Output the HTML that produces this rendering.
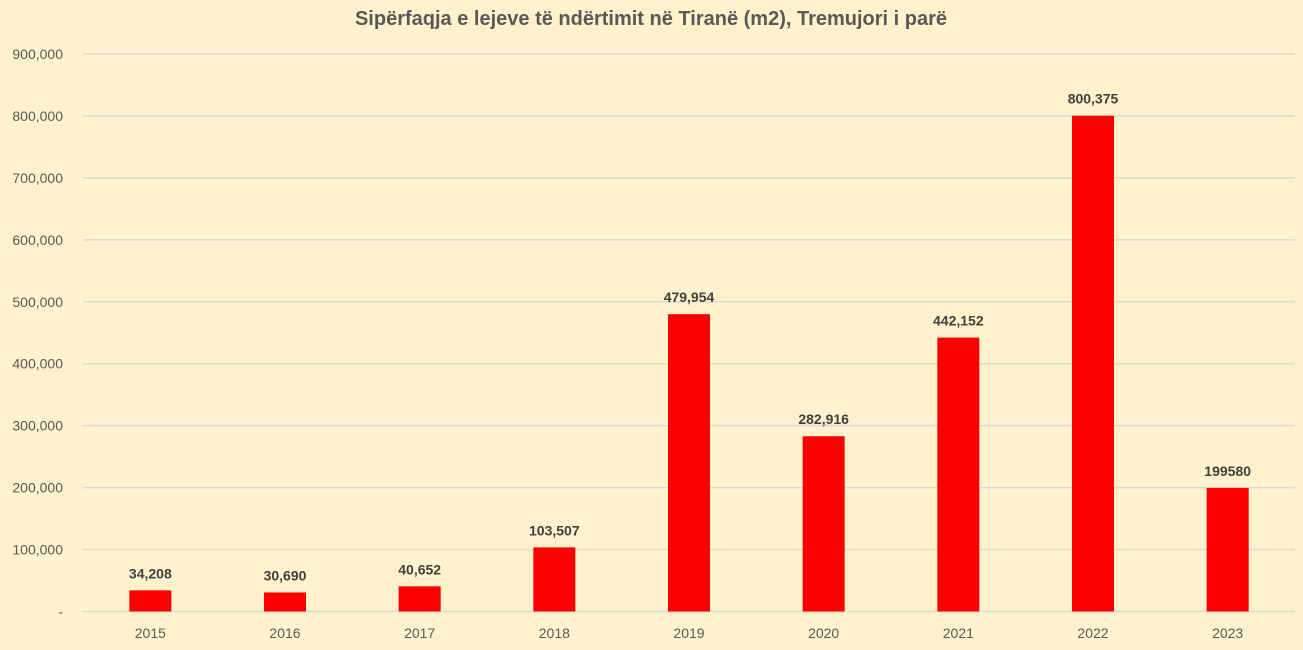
<!DOCTYPE html>
<html><head><meta charset="utf-8"><style>
body{margin:0;background:#FFF2CC;}
svg{display:block;font-family:"Liberation Sans",sans-serif;}
</style></head><body>
<svg id="c" width="1303" height="650">
<rect width="1303" height="650" fill="#FFF2CC"/>
<text x="651" y="25" text-anchor="middle" font-size="20" font-weight="bold" fill="#595959">Sipërfaqja e lejeve të ndërtimit në Tiranë (m2), Tremujori i parë</text>
</svg>
<script>
const categories=["2015","2016","2017","2018","2019","2020","2021","2022","2023"];
const values=[34208,30690,40652,103507,479954,282916,442152,800375,199580];
const valueLabels=["34,208","30,690","40,652","103,507","479,954","282,916","442,152","800,375","199580"];
const ticks=[0,100000,200000,300000,400000,500000,600000,700000,800000,900000];
const tickLabels=["-","100,000","200,000","300,000","400,000","500,000","600,000","700,000","800,000","900,000"];
const svg=document.getElementById('c');const NS="http://www.w3.org/2000/svg";
const L=83,R=1295,Y0=611.5,Y1=54;
const y=v=>Y0-(v/900000)*(Y0-Y1);
const band=(R-L)/categories.length;
const x=i=>L+band*(i+0.5);
function mk(t,a){const e=document.createElementNS(NS,t);for(const k in a)e.setAttribute(k,a[k]);svg.appendChild(e);return e;}
ticks.forEach((t,i)=>{
const g=mk('line',{x1:L,x2:R,y1:y(t),y2:y(t),stroke:'#D9D9D9','stroke-width':1.5});


const tx=mk('text',{x:63,y:y(t)+5,'text-anchor':'end','font-size':14,fill:'#595959'});
tx.textContent=tickLabels[i];


});
categories.forEach((c,i)=>{
const b=mk('rect',{x:x(i)-21,y:y(values[i]),width:42,height:Y0-y(values[i]),fill:'#FF0000'});


const v=mk('text',{x:x(i),y:y(values[i])-12,'text-anchor':'middle','font-size':14,'font-weight':'bold',fill:'#404040'});
v.textContent=valueLabels[i];


const t=mk('text',{x:x(i),y:638,'text-anchor':'middle','font-size':14,fill:'#595959'});
t.textContent=c;


});
</script>
</body></html>
